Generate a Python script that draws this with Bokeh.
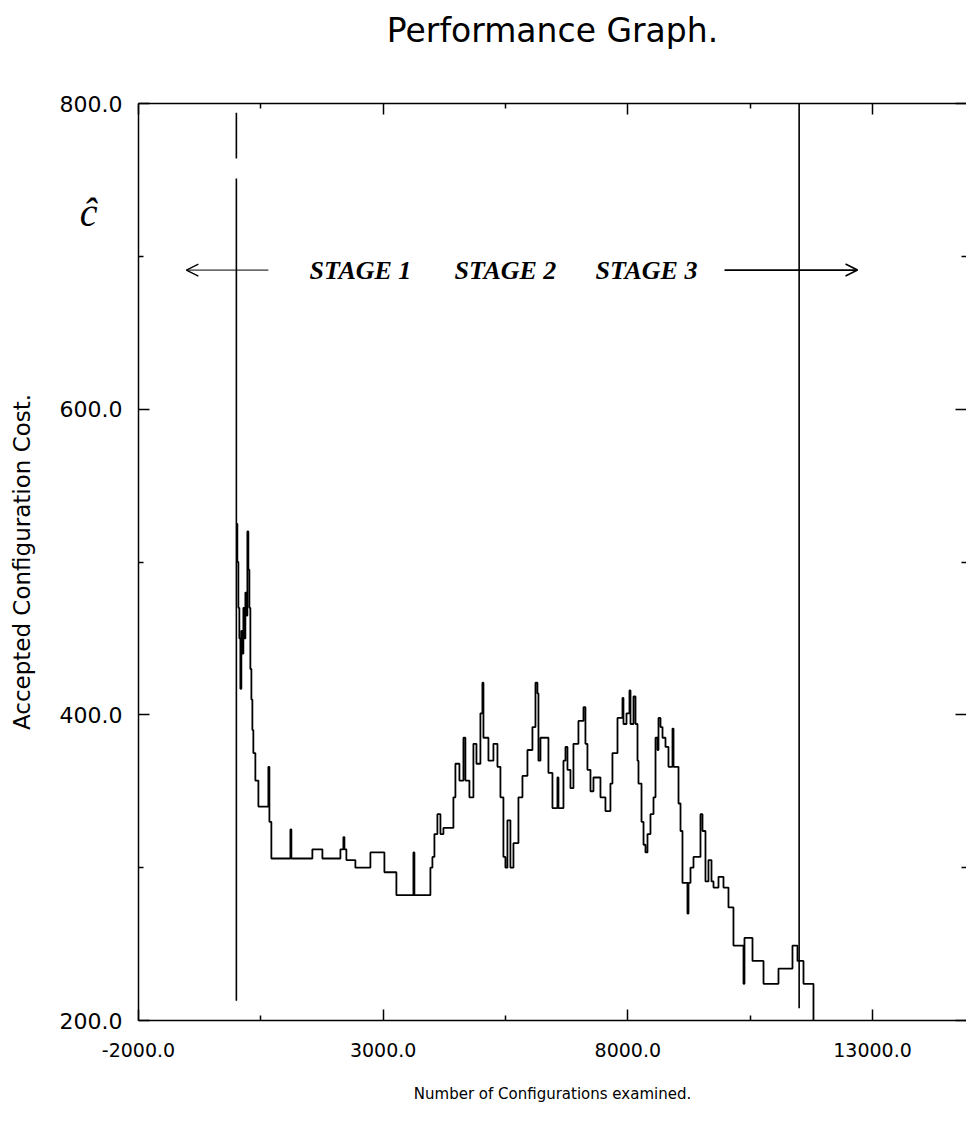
from bokeh.plotting import figure
from bokeh.models import Range1d, LinearAxis, Arrow, OpenHead, FixedTicker
from bokeh.embed import file_html
from bokeh.resources import INLINE
from bokeh.core.properties import value

# ---- data ----
configs = [0, 20, 41, 61, 82, 102, 123, 143, 164, 184, 204, 225, 245, 266, 286, 307,
           327, 347, 388, 450, 654, 675, 715, 1104, 1124, 1553, 1758, 2126, 2187, 2208,
           2248, 2432, 2739, 3025, 3270, 3618, 3638, 3965, 4006, 4047, 4108, 4170, 4231,
           4435, 4476, 4558, 4640, 4680, 4762, 4844, 4906, 4987, 5028, 5049, 5151, 5253,
           5335, 5396, 5457, 5498, 5539, 5600, 5662, 5764, 5846, 5948, 6050, 6112, 6152,
           6173, 6214, 6377, 6459, 6561, 6582, 6684, 6725, 6766, 6827, 6888, 6990, 7093,
           7133, 7174, 7236, 7297, 7440, 7542, 7644, 7685, 7788, 7890, 7910, 7972, 8033,
           8054, 8115, 8156, 8197, 8217, 8279, 8320, 8360, 8401, 8462, 8524, 8565, 8606,
           8626, 8667, 8708, 8769, 8830, 8912, 8933, 9035, 9076, 9116, 9218, 9239, 9280,
           9341, 9484, 9525, 9586, 9647, 9709, 9750, 9852, 9954, 10056, 10158, 10363,
           10383, 10547, 10772, 11078, 11364, 11466, 11589, 11793]
cost = [525, 500, 470, 450, 417, 455, 440, 470, 450, 480, 465, 520, 495, 470, 430, 410,
        390, 375, 357, 340, 366, 330, 306, 325, 306, 312, 306, 312, 320, 312,
        305, 300, 310, 297, 282, 310, 282, 300, 307, 322, 335, 322, 326,
        346, 368, 357, 385, 357, 346, 381, 368, 401, 421, 385, 370, 381,
        366, 346, 307, 300, 331, 300, 316, 346, 360, 377, 392, 421, 414,
        370, 385, 362, 339, 359, 339, 370, 379, 364, 352, 381, 396, 405,
        381, 364, 350, 359, 346, 337, 355, 375, 398, 411, 394, 401, 416,
        394, 412, 394, 370, 355, 330, 315, 310, 322, 335, 346, 385, 377,
        398, 392, 385, 379, 366, 391, 366, 342, 324, 290, 270, 290, 300,
        307, 335, 324, 291, 305, 291, 287, 294, 287, 274, 249, 224,
        254, 239, 224, 234, 249, 239, 224, 200]

x_ticks = [-2000, 3000, 8000, 13000]
x_minor = [500, 5500, 10500]
x_labels = ["-2000.0", "3000.0", "8000.0", "13000.0"]
y_ticks = [200, 400, 600, 800]
y_minor = [300, 500, 700]
y_labels = ["200.0", "400.0", "600.0", "800.0"]

# stage boundary lines (x, y from, y to)
bound_x = [0, 0, 11500]
bound_y0 = [794, 751, 800]
bound_y1 = [764, 213, 208]

stage_text = ["STAGE 1", "STAGE 2", "STAGE 3"]
stage_x = [2535, 5498, 8380]
stage_y = [691, 691, 691]
arrow_left = (654, -1022)
arrow_right = (9975, 12693)
arrow_y = 691
symbol_y = 729          # height of the c-hat symbol beside the axis
symbol_text = "ĉ"

FONT = "DejaVu Sans"

p = figure(width=966, height=1130, output_backend="svg", toolbar_location=None,
           x_range=Range1d(-2000, 14920), y_range=Range1d(200, 800),
           min_border_left=138, min_border_right=0, min_border_top=103,
           min_border_bottom=110, x_axis_location=None, y_axis_location=None)
p.background_fill_color = "white"
p.border_fill_color = "white"
p.outline_line_color = None
p.xgrid.visible = False
p.ygrid.visible = False


def style_axis(ax, labels, font_size):
    ax.axis_line_color = "black"
    ax.axis_line_width = 1.5
    ax.major_tick_in = 11
    ax.major_tick_out = 0
    ax.minor_tick_in = 5
    ax.minor_tick_out = 0
    ax.major_tick_line_color = "black"
    ax.minor_tick_line_color = "black"
    ax.major_tick_line_width = 1.5
    ax.minor_tick_line_width = 1.5
    ax.major_label_overrides = labels
    ax.major_label_text_font = FONT
    ax.major_label_text_font_size = font_size
    ax.major_label_text_color = "black"
    ax.axis_label_text_color = "black"
    ax.axis_label_text_font = FONT
    ax.axis_label_text_font_style = "normal"


bx = LinearAxis(ticker=FixedTicker(ticks=x_ticks, minor_ticks=x_minor))
style_axis(bx, {t: l for t, l in zip(x_ticks, x_labels)}, "19px")
bx.major_label_standoff = 22
bx.axis_label = "Number of Configurations examined."
bx.axis_label_text_font_size = "15px"
bx.axis_label_standoff = 25
p.add_layout(bx, "below")

# top axis: inward ticks, and the chart title as its label
tx = LinearAxis(ticker=FixedTicker(ticks=x_ticks, minor_ticks=x_minor))
style_axis(tx, {t: "" for t in x_ticks}, "10px")
tx.major_label_standoff = 0
tx.axis_label = "Performance Graph."
tx.axis_label_text_font_size = "33px"
tx.axis_label_standoff = 54
p.add_layout(tx, "above")

ly = LinearAxis(ticker=FixedTicker(ticks=y_ticks, minor_ticks=y_minor))
style_axis(ly, {t: l for t, l in zip(y_ticks, y_labels)}, "22px")
ly.major_label_standoff = 16
ly.axis_label = "Accepted Configuration Cost."
ly.axis_label_text_font_size = "23px"
ly.axis_label_standoff = 22
p.add_layout(ly, "left")

# an extra, invisible left axis that carries only the c-hat symbol
sy = LinearAxis(ticker=FixedTicker(ticks=[symbol_y], minor_ticks=[]))
sy.axis_line_color = None
sy.major_tick_line_color = None
sy.minor_tick_line_color = None
sy.major_tick_in = 0
sy.major_tick_out = 0
sy.major_label_overrides = {symbol_y: symbol_text}
sy.major_label_text_font = "Liberation Serif"
sy.major_label_text_font_style = "italic"
sy.major_label_text_font_size = "40px"
sy.major_label_text_color = "black"
sy.major_label_standoff = -92
p.add_layout(sy, "left")

ry = LinearAxis(ticker=FixedTicker(ticks=y_ticks, minor_ticks=y_minor))
style_axis(ry, {t: "" for t in y_ticks}, "10px")
ry.major_label_standoff = 0
ry.axis_line_alpha = 0
p.add_layout(ry, "right")

# performance trace
p.step(configs, cost, mode="after", line_color="black", line_width=1.8)

# stage boundaries
p.segment(x0=bound_x, y0=bound_y0, x1=bound_x, y1=bound_y1, line_color="black", line_width=1.6)

# stage labels and arrows
p.text(x=stage_x, y=stage_y, text=stage_text, text_font=value("Liberation Serif"),
       text_font_style="bold italic", text_font_size="26px", text_align="center",
       text_baseline="middle", text_color="black")
p.add_layout(Arrow(end=OpenHead(size=12, line_width=1.3, line_color="black"),
                   x_start=arrow_left[0], y_start=arrow_y, x_end=arrow_left[1], y_end=arrow_y,
                   line_width=1.0, line_color="black"))
p.add_layout(Arrow(end=OpenHead(size=12, line_width=1.6, line_color="black"),
                   x_start=arrow_right[0], y_start=arrow_y, x_end=arrow_right[1], y_end=arrow_y,
                   line_width=1.6, line_color="black"))

open("out.html", "w").write(file_html(p, INLINE))
